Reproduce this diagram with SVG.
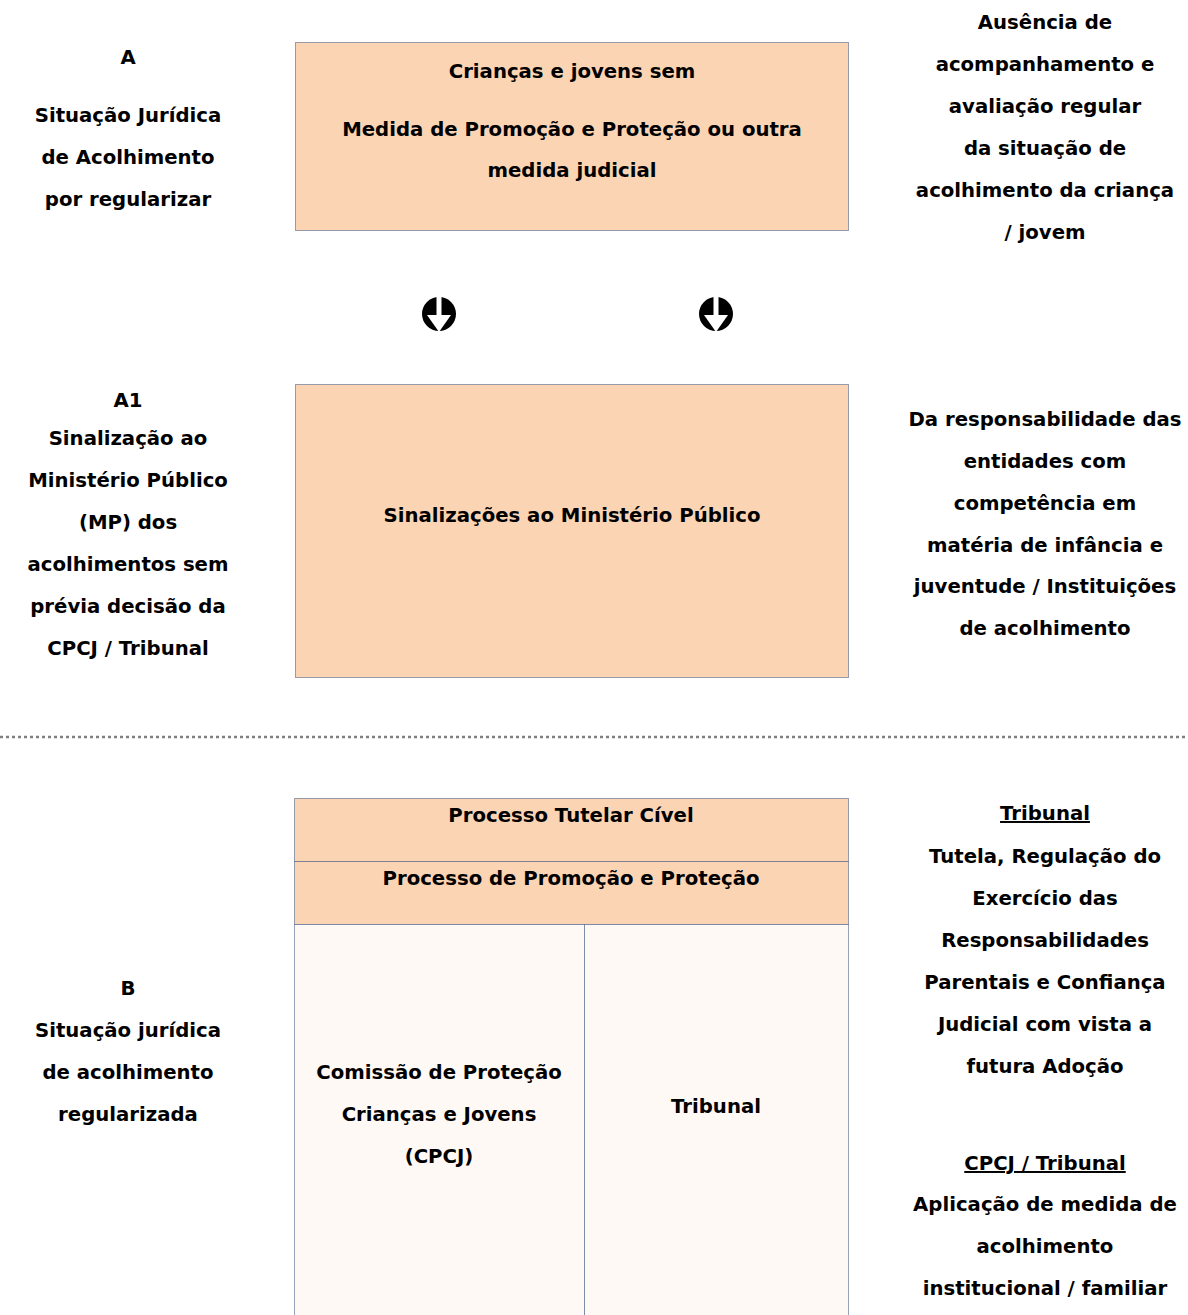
<svg xmlns="http://www.w3.org/2000/svg" width="1188" height="1315" viewBox="0 0 1188 1315">
<style>
  text { font-family: "DejaVu Sans", Verdana, sans-serif; font-weight: bold; font-size: 19.7px; fill: #000; text-anchor: middle; }
  .box { fill: #FBD4B4; stroke: #2E4A7A; stroke-width: 1; stroke-dasharray: 1 1; }
  .cell { fill: #FEF9F5; stroke: #2E4A7A; stroke-width: 1; stroke-dasharray: 1 1; }
  .ul { text-decoration: underline; }
</style>
<defs>
  <g id="downArrow">
    <circle cx="0" cy="0" r="17" fill="#000"/>
    <rect x="-2.5" y="-18" width="5" height="19" fill="#fff"/>
    <polygon points="-12,1 12,1 0,18" fill="#fff"/>
  </g>
</defs>
<rect width="1188" height="1315" fill="#fff"/>

<g id="label-A">
  <text x="128" y="64">A</text>
  <text x="128" y="122">Situação Jurídica</text>
  <text x="128" y="164">de Acolhimento</text>
  <text x="128" y="206">por regularizar</text>
</g>

<g id="node-sem-medida">
  <rect class="box" x="295.5" y="42.5" width="553" height="188"/>
  <text x="572" y="78">Crianças e jovens sem</text>
  <text x="572" y="136">Medida de Promoção e Proteção ou outra</text>
  <text x="572" y="177">medida judicial</text>
</g>

<g id="note-ausencia">
  <text x="1045" y="29">Ausência de</text>
  <text x="1045" y="71">acompanhamento e</text>
  <text x="1045" y="113">avaliação regular</text>
  <text x="1045" y="155">da situação de</text>
  <text x="1045" y="197">acolhimento da criança</text>
  <text x="1045" y="239">/ jovem</text>
</g>

<g id="connectors">
  <use href="#downArrow" x="439" y="314"/>
  <use href="#downArrow" x="716" y="314"/>
</g>

<g id="label-A1">
  <text x="128" y="407">A1</text>
  <text x="128" y="445">Sinalização ao</text>
  <text x="128" y="487">Ministério Público</text>
  <text x="128" y="529">(MP) dos</text>
  <text x="128" y="571">acolhimentos sem</text>
  <text x="128" y="613">prévia decisão da</text>
  <text x="128" y="655">CPCJ / Tribunal</text>
</g>

<g id="node-sinalizacoes">
  <rect class="box" x="295.5" y="384.5" width="553" height="293"/>
  <text x="572" y="522">Sinalizações ao Ministério Público</text>
</g>

<g id="note-responsabilidade">
  <text x="1045" y="426">Da responsabilidade das</text>
  <text x="1045" y="468">entidades com</text>
  <text x="1045" y="510">competência em</text>
  <text x="1045" y="552">matéria de infância e</text>
  <text x="1045" y="593">juventude / Instituições</text>
  <text x="1045" y="635">de acolhimento</text>
</g>

<g id="separator">
  <line x1="0" y1="737" x2="1188" y2="737" stroke="#7F7F7F" stroke-width="2.5" stroke-dasharray="3 3"/>
</g>

<g id="label-B">
  <text x="128" y="995">B</text>
  <text x="128" y="1037">Situação jurídica</text>
  <text x="128" y="1079">de acolhimento</text>
  <text x="128" y="1121">regularizada</text>
</g>

<g id="node-processo-tutelar">
  <rect class="box" x="294.5" y="798.5" width="554" height="63"/>
  <text x="571" y="822">Processo Tutelar Cível</text>
</g>

<g id="node-processo-promocao">
  <rect class="box" x="294.5" y="861.5" width="554" height="63"/>
  <text x="571" y="885">Processo de Promoção e Proteção</text>
</g>

<g id="node-cpcj">
  <rect class="cell" x="294.5" y="924.5" width="290" height="400"/>
  <text x="439" y="1079">Comissão de Proteção</text>
  <text x="439" y="1121">Crianças e Jovens</text>
  <text x="439" y="1163">(CPCJ)</text>
</g>

<g id="node-tribunal">
  <rect class="cell" x="584.5" y="924.5" width="264" height="400"/>
  <text x="716" y="1113">Tribunal</text>
</g>

<g id="note-tribunal">
  <text x="1045" y="820" class="ul">Tribunal</text>
  <text x="1045" y="863">Tutela, Regulação do</text>
  <text x="1045" y="905">Exercício das</text>
  <text x="1045" y="947">Responsabilidades</text>
  <text x="1045" y="989">Parentais e Confiança</text>
  <text x="1045" y="1031">Judicial com vista a</text>
  <text x="1045" y="1073">futura Adoção</text>
</g>

<g id="note-cpcj-tribunal">
  <text x="1045" y="1170" class="ul">CPCJ / Tribunal</text>
  <text x="1045" y="1211">Aplicação de medida de</text>
  <text x="1045" y="1253">acolhimento</text>
  <text x="1045" y="1295">institucional / familiar</text>
</g>
</svg>
